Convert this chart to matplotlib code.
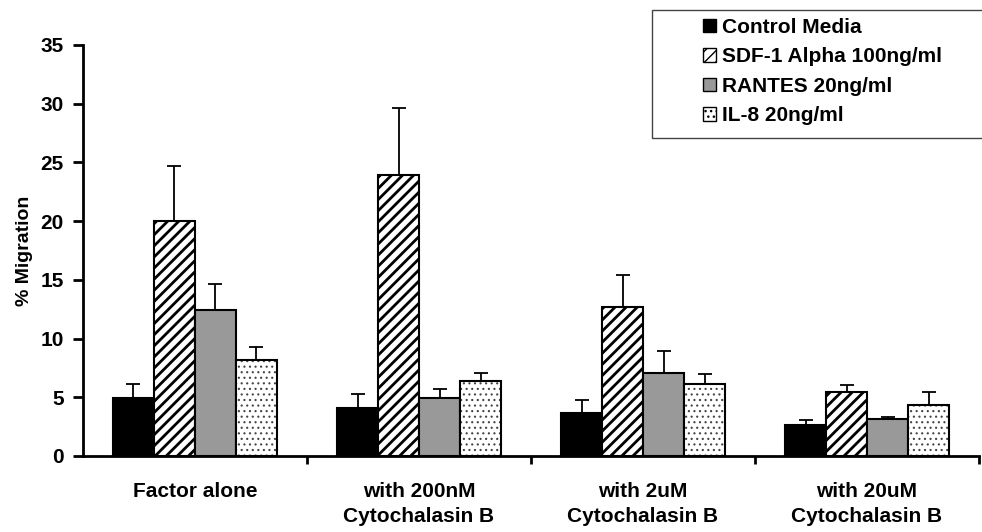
import matplotlib.pyplot as plt
import numpy as np

plt.rcParams["font.family"] = ["Liberation Sans", "DejaVu Sans"]
plt.rcParams["font.weight"] = "bold"

groups = ["Factor alone", "with 200nM\nCytochalasin B", "with 2uM\nCytochalasin B", "with 20uM\nCytochalasin B"]
series = ["Control Media", "SDF-1 Alpha 100ng/ml", "RANTES 20ng/ml", "IL-8 20ng/ml"]

control = [4.9, 4.1, 3.65, 2.6]
sdf1 = [20.0, 23.9, 12.65, 5.45]
rantes = [12.4, 4.9, 7.1, 3.15]
il8 = [8.2, 6.4, 6.1, 4.3]

control_err = [1.2, 1.2, 1.1, 0.45]
sdf1_err = [4.7, 5.7, 2.8, 0.6]
rantes_err = [2.2, 0.8, 1.85, 0.15]
il8_err = [1.1, 0.7, 0.85, 1.15]

values = [control, sdf1, rantes, il8]
errors = [control_err, sdf1_err, rantes_err, il8_err]
fills = ["black", "white", "#999999", "white"]
hatches = [None, "///", None, "..."]
hatch_lw = [1.0, 2.0, 1.0, 0.8]

fig = plt.figure(figsize=(9.82, 5.32), dpi=100)
ax = fig.add_axes([0.0845, 0.143, 0.9125, 0.7725])

x = np.arange(len(groups))
w = 0.183
for i in range(4):
    pos = x + (i - 1.5) * w
    plt.rcParams["hatch.linewidth"] = hatch_lw[i]
    if hatches[i] == "...":
        # fine dark dots, black outline drawn on top
        ax.bar(pos, values[i], w, color="white", edgecolor="#444444", hatch="...", linewidth=0, zorder=2)
        ax.bar(pos, values[i], w, fill=False, edgecolor="black", linewidth=1.5, zorder=3)
    else:
        ax.bar(pos, values[i], w, color=fills[i], edgecolor="black", hatch=hatches[i], linewidth=1.5, zorder=2)
    ax.errorbar(pos, values[i], yerr=[np.zeros(4), errors[i]], fmt="none", ecolor="black",
                elinewidth=1.3, capsize=5, capthick=1.3, zorder=4)

# legend: handles + labels without frame, box drawn separately
handles = []
for i in range(4):
    plt.rcParams["hatch.linewidth"] = 1.0
    handles.append(plt.Rectangle((0, 0), 1, 1, facecolor=fills[i], edgecolor="black",
                                 hatch=hatches[i], linewidth=1))
leg = fig.legend(handles, series, loc="upper left", bbox_to_anchor=(703 / 982, 1 - 18 / 532),
                 frameon=False, fontsize=15,
                 handlelength=0.6, handleheight=0.6, handletextpad=0.3,
                 labelspacing=0.5, borderpad=0, borderaxespad=0)
box = plt.Rectangle((652 / 982, 1 - 138 / 532), 0.4, 128 / 532, transform=fig.transFigure,
                    fill=False, edgecolor="#444444", linewidth=1.0)
fig.add_artist(box)

ax.set_xlim(-0.5, 3.5)
ax.set_ylim(0, 35)
ax.set_yticks(np.arange(0, 36, 5))
ax.tick_params(axis="y", labelsize=15, width=2, length=7, direction="out", pad=7)
ax.set_xticks(x)
ax.set_xticklabels(groups, fontsize=15, linespacing=1.35)
ax.tick_params(axis="x", length=0, pad=19)
ax.set_xticks(np.arange(0.5, 4, 1), minor=True)
ax.tick_params(axis="x", which="minor", length=6, width=2, direction="out")
for s in ["top", "right"]:
    ax.spines[s].set_visible(False)
for s in ["left", "bottom"]:
    ax.spines[s].set_linewidth(2)
ax.set_ylabel("% Migration", fontsize=14, fontweight="bold", labelpad=5)

fig.savefig("out.png", dpi=100)
